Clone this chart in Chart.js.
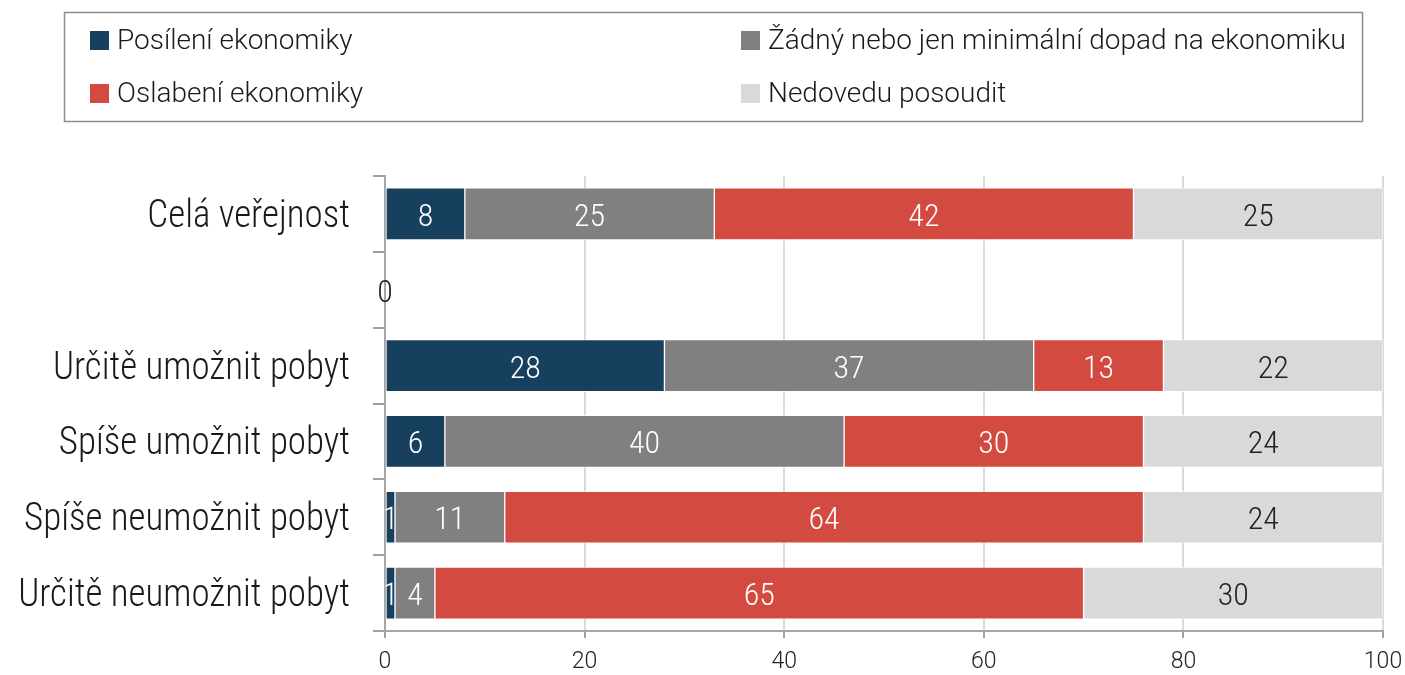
<!DOCTYPE html>
<html lang="cs">
<head>
<meta charset="utf-8">
<script src="https://cdn.jsdelivr.net/npm/chart.js@4"></script>
<style>
  html, body { margin: 0; padding: 0; background: #fff; }
</style>
</head>
<body>
<canvas id="chart" width="1405" height="675"></canvas>
<script>
const categories = ['Celá veřejnost', '', 'Určitě umožnit pobyt', 'Spíše umožnit pobyt', 'Spíše neumožnit pobyt', 'Určitě neumožnit pobyt'];
const seriesNames = ['Posílení ekonomiky', 'Žádný nebo jen minimální dopad na ekonomiku', 'Oslabení ekonomiky', 'Nedovedu posoudit'];
const seriesColors = ['#17405f', '#808080', '#d34b40', '#d9d9d9'];
const labelColors = ['#ffffff', '#ffffff', '#ffffff', '#222222'];

const posileni = [8, null, 28, 6, 1, 1];
const zadnyDopad = [25, null, 37, 40, 11, 4];
const oslabeni = [42, null, 13, 30, 64, 65];
const nedovedu = [25, 0, 22, 24, 24, 30];
const xTicks = [0, 20, 40, 60, 80, 100];

const seriesValues = [posileni, zadnyDopad, oslabeni, nedovedu];
const FONT = 'Roboto, sans-serif';

// fillText with a slight horizontal squeeze around the anchor point
function drawText(ctx, text, x, y, sx) {
  ctx.save();
  ctx.translate(x, y);
  ctx.scale(sx, 1);
  ctx.fillText(text, 0, 0);
  ctx.restore();
}

// boxed legend above the plot, two columns by two rows
const boxedLegend = {
  id: 'boxedLegend',
  afterDraw(chart) {
    const ctx = chart.ctx;
    const cols = [90, 741];
    const rows = [49, 102];
    ctx.save();
    ctx.strokeStyle = '#8c8c8c';
    ctx.lineWidth = 1.5;
    ctx.strokeRect(64.5, 12.5, 1298, 109);
    ctx.font = '300 28px ' + FONT;
    ctx.textAlign = 'left';
    ctx.textBaseline = 'alphabetic';
    seriesNames.forEach((name, i) => {
      const x = cols[i % 2];
      const y = rows[Math.floor(i / 2)];
      ctx.fillStyle = seriesColors[i];
      ctx.fillRect(x, y - 18, 19, 19);
      ctx.fillStyle = '#1a1a1a';
      drawText(ctx, name, x + 27, y, 1.0);
    });
    ctx.restore();
  }
};

// category names, right-aligned against the tick marks
const categoryLabels = {
  id: 'categoryLabels',
  afterDraw(chart) {
    const ctx = chart.ctx;
    const y = chart.scales.y;
    ctx.save();
    ctx.font = 'condensed 300 39px ' + FONT;
    ctx.fillStyle = '#1a1a1a';
    ctx.textAlign = 'right';
    ctx.textBaseline = 'alphabetic';
    categories.forEach((name, i) => {
      if (!name) return;
      drawText(ctx, name, 350, y.getPixelForValue(i) + 13, 0.948);
    });
    ctx.restore();
  }
};

// value labels centred in each segment
const segmentLabels = {
  id: 'segmentLabels',
  afterDatasetsDraw(chart) {
    const ctx = chart.ctx;
    ctx.save();
    ctx.font = 'condensed 300 32px ' + FONT;
    ctx.textAlign = 'center';
    ctx.textBaseline = 'alphabetic';
    chart.data.datasets.forEach((ds, di) => {
      const meta = chart.getDatasetMeta(di);
      meta.data.forEach((bar, i) => {
        const v = ds.data[i];
        if (v === null || v === undefined) return;
        ctx.fillStyle = labelColors[di];
        ctx.fillText(String(v), (bar.x + bar.base) / 2, bar.y + 12);
      });
    });
    ctx.restore();
  }
};

new Chart(document.getElementById('chart'), {
  type: 'bar',
  data: {
    labels: categories,
    datasets: seriesValues.map((vals, i) => ({
      label: seriesNames[i],
      data: vals,
      backgroundColor: seriesColors[i],
      borderColor: 'rgba(255,255,255,0.7)',
      borderWidth: 1,
      borderSkipped: false,
      barThickness: 52
    }))
  },
  options: {
    indexAxis: 'y',
    responsive: false,
    animation: false,
    layout: { padding: { top: 176, right: 22, left: 0, bottom: 0 } },
    plugins: {
      legend: { display: false },
      tooltip: { enabled: false }
    },
    scales: {
      x: {
        stacked: true,
        min: 0,
        max: 100,
        afterBuildTicks: (scale) => { scale.ticks = xTicks.map(v => ({ value: v })); },
        afterFit: (scale) => {
          scale.height = 44;
          scale.paddingLeft = 0;
          scale.paddingRight = 0;
        },
        grid: { color: '#dadada', lineWidth: 2, tickColor: '#a0a0a0', tickLength: 7 },
        border: { color: '#a6a6a6', width: 2 },
        ticks: {
          color: '#222',
          padding: 10,
          font: { family: FONT, weight: 300, size: 23 }
        }
      },
      y: {
        stacked: true,
        afterFit: (scale) => { scale.width = 385; },
        grid: { drawOnChartArea: false, color: '#a0a0a0', lineWidth: 2, tickLength: 12, offset: true },
        border: { color: '#a6a6a6', width: 2 },
        ticks: { display: false }
      }
    }
  },
  plugins: [segmentLabels, categoryLabels, boxedLegend]
});
</script>
</body>
</html>
